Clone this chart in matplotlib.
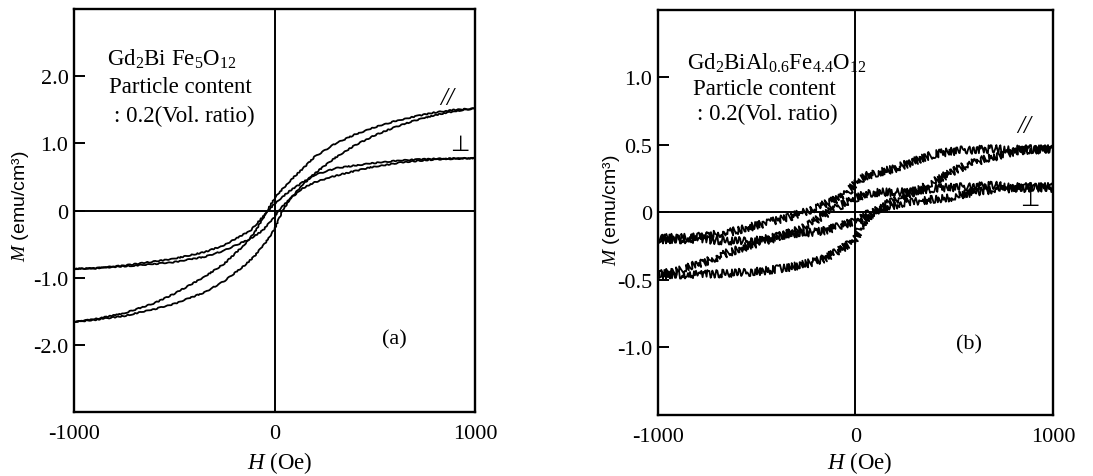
import matplotlib
matplotlib.use("Agg")
import matplotlib.pyplot as plt

# fonts: Times-like serif for everything, Arial-like for the unit in the y label
plt.rcParams["font.family"] = ["Liberation Serif", "DejaVu Sans"]
plt.rcParams["mathtext.fontset"] = "custom"
plt.rcParams["mathtext.rm"] = "Liberation Serif"
plt.rcParams["mathtext.it"] = "Liberation Serif:italic"

# =========================
# (a) Gd2Bi Fe5O12
# =========================
# parallel field, descending branch (+1000 -> -1000)
a_par_dn_H = [1000, 900, 800, 700, 600, 500, 400, 300, 200, 140, 80, 40, 0,
              -30, -60, -100, -150, -250, -350, -500, -600, -750, -900, -1000]
a_par_dn_M = [1.52, 1.50, 1.46, 1.40, 1.33, 1.24, 1.13, 0.99, 0.80, 0.62, 0.45, 0.32, 0.18,
              0.03, -0.13, -0.33, -0.51, -0.79, -0.99, -1.24, -1.38, -1.53, -1.62, -1.66]
# parallel field, ascending branch (-1000 -> +1000)
a_par_up_H = [-1000, -900, -750, -600, -500, -350, -250, -150, -100, -50, 0,
              40, 80, 140, 200, 300, 400, 500, 600, 700, 800, 900, 1000]
a_par_up_M = [-1.66, -1.63, -1.57, -1.47, -1.39, -1.22, -1.05, -0.82, -0.68, -0.50, -0.28,
              0.0, 0.18, 0.38, 0.55, 0.78, 0.97, 1.12, 1.24, 1.34, 1.42, 1.48, 1.52]
# perpendicular field, descending branch
a_per_dn_H = [1000, 800, 640, 474, 308, 200, 140, 80, 30, 0,
              -30, -60, -120, -254, -350, -504, -650, -753, -900, -1000]
a_per_dn_M = [0.78, 0.77, 0.75, 0.70, 0.63, 0.53, 0.42, 0.30, 0.18, 0.10,
              0.0, -0.10, -0.30, -0.52, -0.62, -0.72, -0.78, -0.82, -0.86, -0.87]
# perpendicular field, ascending branch
a_per_up_H = [-1000, -900, -753, -650, -504, -350, -254, -120, -60, 0,
              20, 80, 140, 200, 308, 474, 640, 800, 1000]
a_per_up_M = [-0.87, -0.86, -0.83, -0.81, -0.77, -0.69, -0.60, -0.42, -0.30, -0.10,
              0.0, 0.18, 0.33, 0.42, 0.52, 0.64, 0.72, 0.76, 0.78]

# =========================
# (b) Gd2BiAl0.6Fe4.4O12
# =========================
b_par_dn_H = [1000, 850, 700, 527, 390, 300, 223, 188, 100, 54, 0,
              -60, -172, -250, -344, -430, -511, -650, -800, -1000]
b_par_dn_M = [0.47, 0.47, 0.47, 0.46, 0.43, 0.38, 0.34, 0.32, 0.29, 0.27, 0.21,
              0.12, 0.05, 0.01, -0.04, -0.07, -0.10, -0.15, -0.18, -0.19]
b_par_up_H = [-1000, -800, -650, -511, -400, -344, -250, -172, -80, 0,
              36, 80, 138, 220, 308, 400, 476, 560, 645, 750, 850, 1000]
b_par_up_M = [-0.46, -0.46, -0.45, -0.44, -0.42, -0.41, -0.38, -0.35, -0.28, -0.19,
              -0.08, -0.01, 0.05, 0.10, 0.16, 0.23, 0.29, 0.35, 0.39, 0.43, 0.46, 0.47]
b_per_up_H = [-1000, -800, -650, -511, -400, -344, -250, -172, -80, 0,
              50, 100, 138, 220, 308, 400, 476, 560, 700, 850, 1000]
b_per_up_M = [-0.20, -0.20, -0.21, -0.21, -0.18, -0.16, -0.15, -0.14, -0.10, -0.06,
              -0.02, 0.01, 0.04, 0.06, 0.08, 0.10, 0.11, 0.14, 0.17, 0.18, 0.18]
b_per_dn_H = [1000, 850, 700, 560, 400, 308, 223, 138, 54, 0,
              -50, -120, -200, -300, -400, -450, -525, -650, -730, -815, -900, -1000]
b_per_dn_M = [0.19, 0.19, 0.20, 0.19, 0.18, 0.16, 0.15, 0.15, 0.14, 0.10,
              0.07, 0.02, -0.06, -0.13, -0.19, -0.21, -0.24, -0.30, -0.35, -0.39, -0.43, -0.46]

a_yticks = [-2.0, -1.0, 0, 1.0, 2.0]
a_yticklabels = ["-2.0", "-1.0", "0", "1.0", "2.0"]
b_yticks = [-1.0, -0.5, 0, 0.5, 1.0]
b_yticklabels = ["-1.0", "-0.5", "0", "0.5", "1.0"]
xticks = [-1000, 0, 1000]
xticklabels = ["-1000", "0", "1000"]

fig = plt.figure(figsize=(10.93, 4.77), dpi=100)
ax_a = fig.add_axes([0.0677, 0.1342, 0.3669, 0.8448])
ax_b = fig.add_axes([0.6020, 0.1279, 0.3614, 0.8491])


def setup(ax, ylim, yticks, yticklabels):
    ax.set_xlim(-1000, 1000)
    ax.set_ylim(*ylim)
    ax.axhline(0, color="black", lw=1.4, zorder=1)
    ax.axvline(0, color="black", lw=1.4, zorder=1)
    for sp in ax.spines.values():
        sp.set_linewidth(1.7)
    ax.set_xticks(xticks)
    ax.set_xticklabels(xticklabels)
    ax.set_yticks(yticks)
    ax.set_yticklabels(yticklabels)
    ax.tick_params(axis="y", direction="in", length=8, width=1.4, labelsize=16, pad=4)
    ax.tick_params(axis="x", length=0, labelsize=16, pad=9)
    ax.set_xlabel(r"$H$ (Oe)", fontsize=16.5)
    ax.set_ylabel(r"$M$ (emu/cm³)", fontsize=14, family=["Liberation Sans", "DejaVu Sans"])


setup(ax_a, (-3, 3), a_yticks, a_yticklabels)
setup(ax_b, (-1.5, 1.5), b_yticks, b_yticklabels)

ax_a.xaxis.set_label_coords(0.514, -0.092)
ax_b.xaxis.set_label_coords(0.511, -0.085)
ax_a.yaxis.set_label_coords(-0.108, 0.514)
ax_b.yaxis.set_label_coords(-0.092, 0.509)

# smooth loops in (a)
for H, M in [(a_par_dn_H, a_par_dn_M), (a_par_up_H, a_par_up_M),
             (a_per_dn_H, a_per_dn_M), (a_per_up_H, a_per_up_M)]:
    ln, = ax_a.plot(H, M, color="black", lw=1.3, zorder=3)
    ln.set_sketch_params(0.5, 8, 4)

# noisy loops in (b)
for H, M in [(b_par_dn_H, b_par_dn_M), (b_par_up_H, b_par_up_M),
             (b_per_up_H, b_per_up_M), (b_per_dn_H, b_per_dn_M)]:
    ln, = ax_b.plot(H, M, color="black", lw=1.3, zorder=3)
    ln.set_sketch_params(4.0, 2, 3)

# annotations
txt = dict(fontsize=16.5, color="black", ha="left", va="center")
ax_a.text(-833, 2.27, r"Gd$_2$Bi Fe$_5$O$_{12}$", **txt)
ax_a.text(-823, 1.84, "Particle content", **txt)
ax_a.text(-798, 1.42, ": 0.2(Vol. ratio)", **txt)
ax_a.text(598, -1.91, "(a)", fontsize=16, ha="center", va="center")
ax_a.text(863, 1.67, "//", fontsize=18, style="italic", ha="center", va="center")
ax_a.text(925, 0.99, "⊥", fontsize=16, ha="center", va="center", zorder=5,
          family=["DejaVu Sans"])

ax_b.text(-851, 1.11, r"Gd$_2$BiAl$_{0.6}$Fe$_{4.4}$O$_{12}$", **txt)
ax_b.text(-825, 0.92, "Particle content", **txt)
ax_b.text(-800, 0.73, ": 0.2(Vol. ratio)", **txt)
ax_b.text(577, -0.97, "(b)", fontsize=16, ha="center", va="center")
ax_b.text(856, 0.64, "//", fontsize=18, style="italic", ha="center", va="center")
ax_b.text(881, 0.10, "⊥", fontsize=16, ha="center", va="center", zorder=5,
          family=["DejaVu Sans"])

fig.savefig("out.png", dpi=100)
